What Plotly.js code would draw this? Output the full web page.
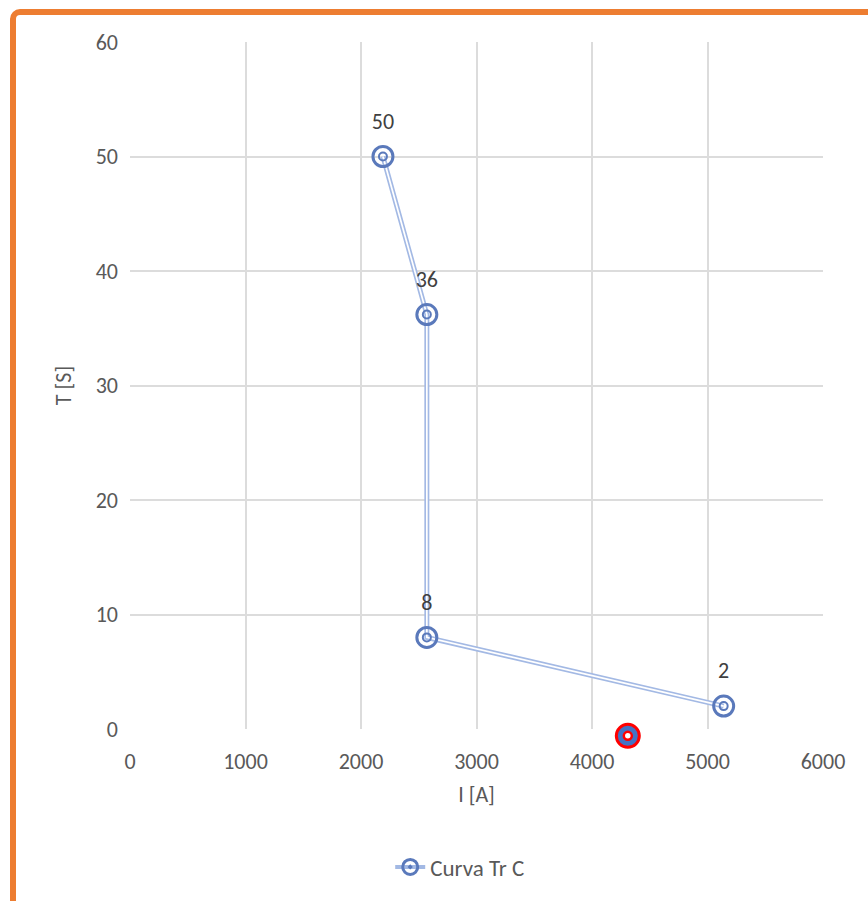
<!DOCTYPE html>
<html>
<head>
<meta charset="utf-8">
<script src="https://cdn.plot.ly/plotly-3.0.1.min.js"></script>
<style>
  html, body { margin:0; padding:0; background:#fff; overflow:hidden; }
  #chart { width:868px; height:901px; }
  #frame { position:absolute; left:10px; top:9px; width:900px; height:950px;
           border:6px solid #ed7d31; border-radius:10px; pointer-events:none; box-sizing:border-box; }
</style>
</head>
<body>
<div id="chart"></div>
<div id="frame"></div>
<script>
const currentA = [2190, 2570, 2570, 5140];
const timeS = [50, 36.2, 8, 2];
const pointLabels = ['50', '36', '8', '2'];
const markX = [4310];
const markY = [-0.6];
const seriesName = 'Curva Tr C';
const xRange = [0, 6000];
const yRange = [0, 60];

const ringColor = '#5a79bb';
const lineColor = '#a3b9e4';
const font = 'Carlito, Calibri, "Open Sans", "Liberation Sans", sans-serif';

// layout geometry (pixels)
const W = 868, H = 901, mT = 42, mB = 142, mainH = 687, extraH = H - mT - mB - mainH;
const plotH = H - mT - mB;
const splitFrac = extraH / plotH;
const y2Range = [yRange[0] - (extraH / mainH) * (yRange[1] - yRange[0]), yRange[0]];

const traces = [
  { x: currentA, y: timeS, mode: 'lines', line: {color: lineColor, width: 5},
    showlegend: false, hoverinfo: 'skip', cliponaxis: false },
  { x: currentA, y: timeS, mode: 'lines', line: {color: '#ffffff', width: 1.7},
    showlegend: false, hoverinfo: 'skip', cliponaxis: false },
  { x: currentA, y: timeS, mode: 'markers', showlegend: false, cliponaxis: false,
    marker: {symbol: 'circle-open', size: 8, color: ringColor, line: {width: 2, color: ringColor}} },
  { x: currentA, y: timeS, mode: 'markers', showlegend: false, cliponaxis: false,
    marker: {symbol: 'circle-open', size: 20, color: ringColor, line: {width: 3, color: ringColor}} },
  { x: currentA, y: timeS, mode: 'markers+text', showlegend: false, cliponaxis: false,
    text: pointLabels, textposition: 'top center',
    textfont: {family: font, size: 22, color: '#404040'},
    marker: {size: 34, color: 'rgba(0,0,0,0)', line: {width: 0}} },
  { x: markX, y: markY, xaxis: 'x2', yaxis: 'y2', mode: 'markers', showlegend: false, cliponaxis: false,
    marker: {symbol: 'circle', size: 23, color: '#4472c4', line: {width: 3, color: '#ff0000'}} },
  { x: markX, y: markY, xaxis: 'x2', yaxis: 'y2', mode: 'markers', showlegend: false, cliponaxis: false,
    marker: {symbol: 'circle', size: 8, color: '#ffffff', line: {width: 2.5, color: '#ff0000'}} },
  { x: [null], y: [null], mode: 'lines+markers', name: seriesName, showlegend: true,
    line: {color: lineColor, width: 4},
    marker: {symbol: 'circle-open-dot', size: 15, color: ringColor, line: {width: 3, color: ringColor}} }
];

const layout = {
  width: W, height: H,
  margin: {l: 130, r: 45, t: mT, b: mB},
  paper_bgcolor: '#ffffff', plot_bgcolor: '#ffffff',
  font: {family: font, size: 22, color: '#595959'},
  xaxis: {
    range: xRange, dtick: 1000, tick0: 0, anchor: 'y',
    showgrid: true, gridcolor: '#dcdcdc', gridwidth: 2,
    zeroline: false, showline: false, ticks: '', ticklabelstandoff: 17,
    tickfont: {size: 22, color: '#595959'},
    title: {text: 'I [A]', font: {size: 22, color: '#595959'}, standoff: 12}
  },
  yaxis: {
    range: yRange, dtick: 10, tick0: 0, domain: [splitFrac, 1], anchor: 'x',
    showgrid: true, gridcolor: '#dcdcdc', gridwidth: 2,
    zeroline: false, showline: false, ticks: '', ticklabelstandoff: 11,
    tickfont: {size: 22, color: '#595959'},
    title: {text: 'T [S]', font: {size: 22, color: '#595959'}, standoff: 17}
  },
  xaxis2: { range: xRange, anchor: 'y2', visible: false, showgrid: false, zeroline: false },
  yaxis2: { range: y2Range, domain: [0, splitFrac], anchor: 'x2', visible: false, showgrid: false, zeroline: false },
  legend: {
    orientation: 'h', x: 0.4765, xanchor: 'center', y: (plotH - (867 - mT)) / plotH, yanchor: 'middle',
    font: {size: 23, color: '#595959'}, bgcolor: 'rgba(0,0,0,0)'
  },
  showlegend: true
};

Plotly.newPlot('chart', traces, layout, {displayModeBar: false, staticPlot: true});
</script>
</body>
</html>
